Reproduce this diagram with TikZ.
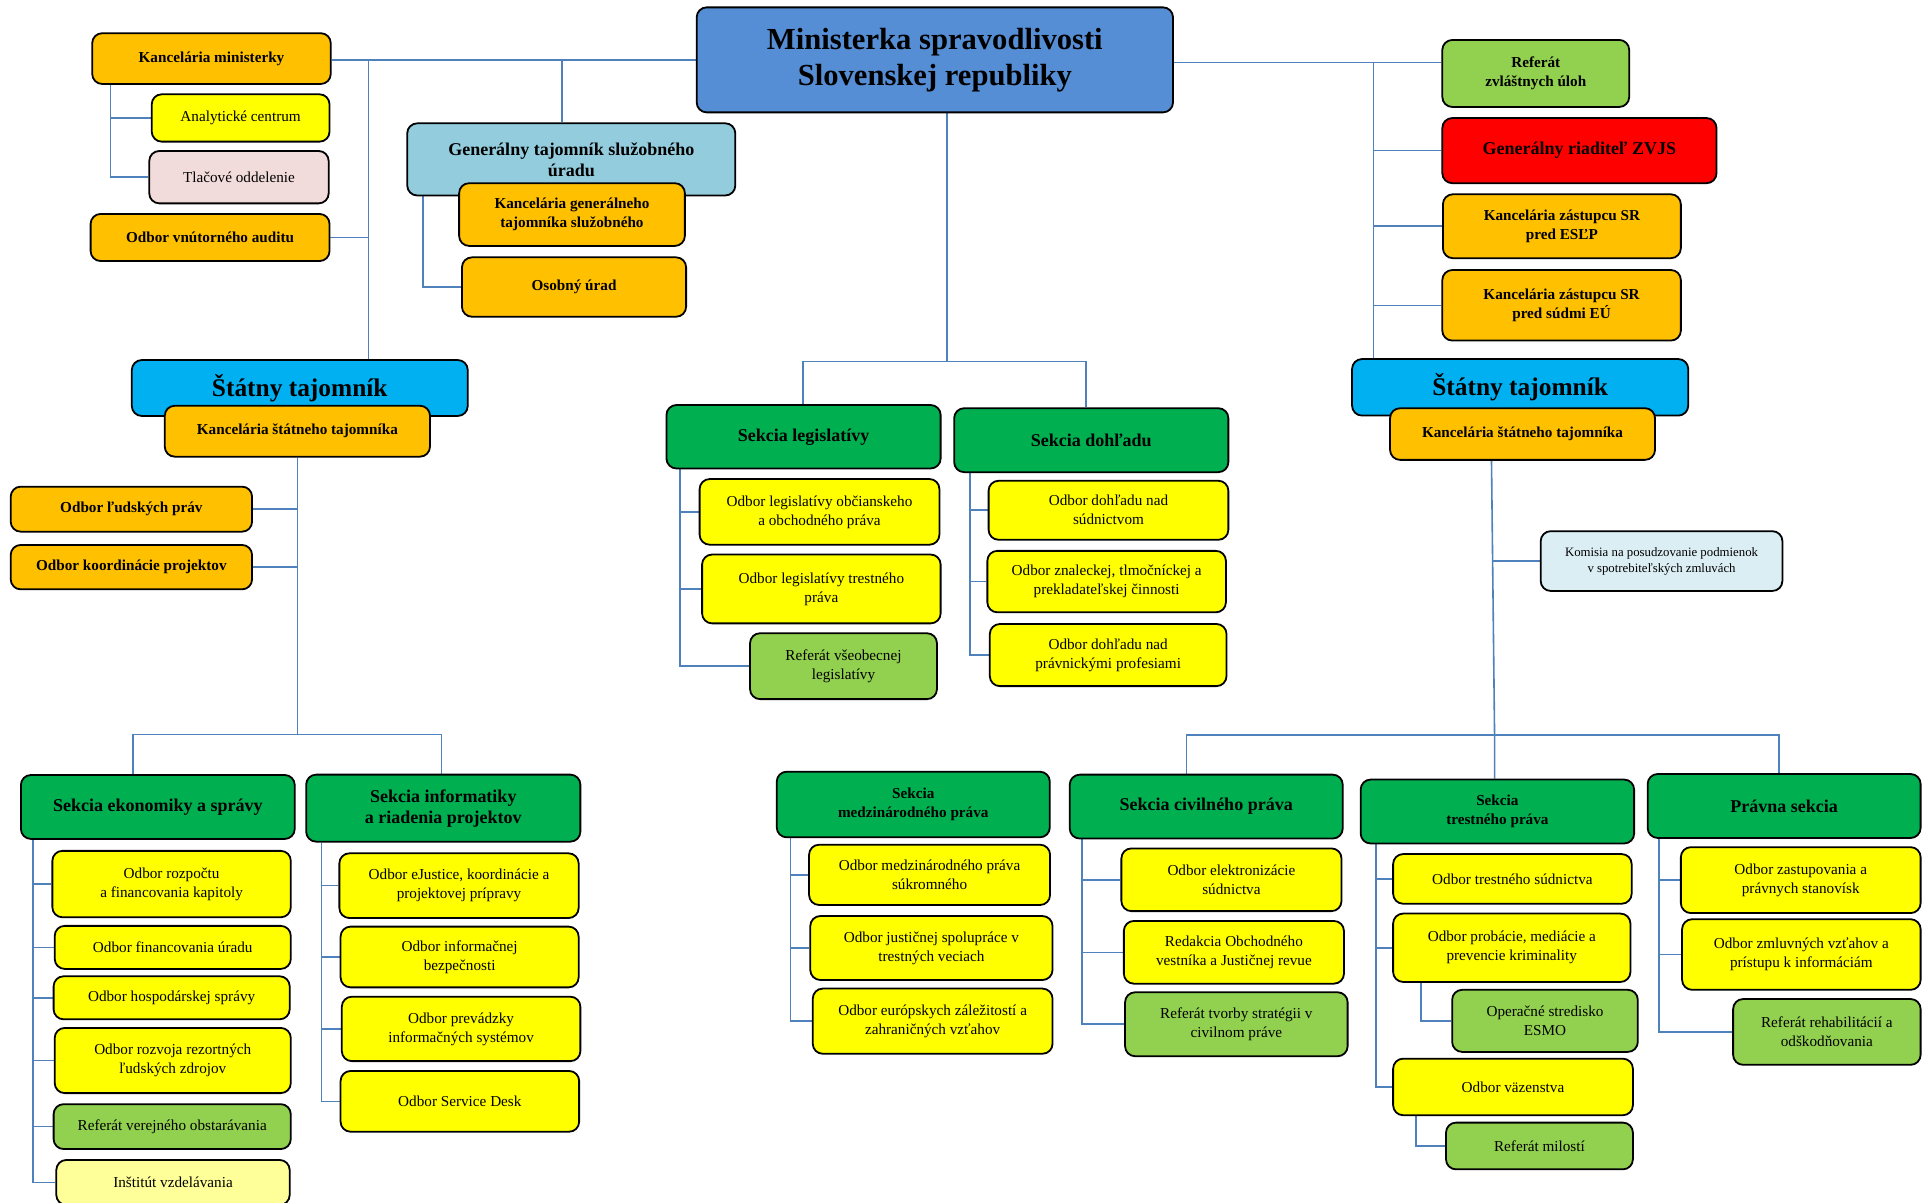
\documentclass[tikz,border=0pt]{standalone}
\usepackage{fontspec}
\setmainfont{Liberation Serif}
\usetikzlibrary{backgrounds}
\definecolor{cMin}{HTML}{558ED5}
\definecolor{cGT}{HTML}{93CDDD}
\definecolor{cST}{HTML}{00B0F0}
\definecolor{cOrg}{HTML}{FFC000}
\definecolor{cYel}{HTML}{FFFF00}
\definecolor{cSec}{HTML}{00B050}
\definecolor{cLg}{HTML}{92D050}
\definecolor{cPink}{HTML}{F2DCDB}
\definecolor{cRed}{HTML}{FF0000}
\definecolor{cKom}{HTML}{DBEEF4}
\definecolor{cPale}{HTML}{FFFF99}
\definecolor{cLine}{HTML}{4F81BD}
\tikzset{
  bx/.style={draw=black, line width=0.9pt, rounded corners=5pt, inner sep=0pt, align=center},
  bh/.style={bx, font=\bfseries\fontsize{15.3}{18}\selectfont},
  bst/.style={bx, font=\bfseries\fontsize{12.7}{15}\selectfont},
  bb/.style={bx, font=\bfseries\fontsize{9}{10.5}\selectfont},
  bs/.style={bx, font=\bfseries\fontsize{7.6}{9.3}\selectfont},
  nt/.style={bx, font=\fontsize{7.6}{9.5}\selectfont},
  nk/.style={bx, font=\fontsize{6.4}{8}\selectfont},
  fo/.style={fill=cOrg}, fy/.style={fill=cYel}, fg/.style={fill=cSec},
  fl/.style={fill=cLg},
  conn/.style={draw=cLine, line width=0.8pt}
}
% box from corner (#2,#3) to (#4,#5), named #6, text #7
\newcommand\bxn[7]{\node[#1, minimum width={(#4-#2)*0.6148pt}, minimum height={(#5-#3)*0.6148pt}] (#6) at ({(#2+#4)/2},{(#3+#5)/2}) {#7};}
\begin{document}
\begin{tikzpicture}[x=0.6148pt, y=-0.6148pt]
\useasboundingbox (0,0) rectangle (1568,978);
% top
\bxn{bh,fill=cMin}{566.6}{6}{954}{91.4}{min}{Ministerka spravodlivosti\\Slovenskej republiky}
\bxn{bs,fo}{75}{27}{269}{68.3}{kmin}{Kancelária ministerky}
\bxn{nt,fy}{123.4}{76.7}{268}{115.2}{anal}{Analytické centrum}
\bxn{nt,fill=cPink}{121.4}{122.8}{267.3}{165.4}{tlac}{Tlačové oddelenie}
\bxn{bs,fo}{73.7}{174}{268}{212.3}{audit}{Odbor vnútorného auditu}
\bxn{bb,fill=cGT}{331.2}{100.3}{598}{159}{gt}{Generálny tajomník služobného\\úradu}
\bxn{bs,fo}{373.4}{149}{557}{200}{kgt}{Kancelária generálneho\\tajomníka služobného}
\bxn{bs,fo}{375.7}{209.3}{558}{257.6}{osob}{Osobný úrad}
% left state secretary
\bxn{bst,fill=cST}{107.2}{292.8}{380.4}{338.3}{stl}{Štátny tajomník}
\bxn{bs,fo}{134}{330}{349.7}{371.4}{kstl}{Kancelária štátneho tajomníka}
\bxn{bs,fo}{8.7}{395.8}{205}{432.4}{ludsk}{Odbor ľudských práv}
\bxn{bs,fo}{8.7}{443.2}{205}{479.3}{koord}{Odbor koordinácie projektov}
% middle sections
\bxn{bb,fg}{542}{329.4}{765}{381}{sleg}{Sekcia legislatívy}
\bxn{bb,fg}{776}{332}{999}{384}{sdoh}{Sekcia dohľadu}
\bxn{nt,fy}{569}{389.6}{764}{443}{obc}{Odbor legislatívy občianskeho\\a obchodného práva}
\bxn{nt,fy}{571}{451}{765}{507}{trp}{Odbor legislatívy trestného\\práva}
\bxn{nt,fl}{610}{515}{762}{568.6}{rvl}{Referát všeobecnej\\legislatívy}
\bxn{nt,fy}{804}{391}{999}{439}{sud}{Odbor dohľadu nad\\súdnictvom}
\bxn{nt,fy}{803}{448}{997}{498}{zna}{Odbor znaleckej, tlmočníckej a\\prekladateľskej činnosti}
\bxn{nt,fy}{805}{507.5}{997.5}{558}{prof}{Odbor dohľadu nad\\právnickými profesiami}
% right top
\bxn{bs,fl}{1173}{32.5}{1325}{87}{refzu}{Referát\\zvláštnych úloh}
\bxn{bb,fill=cRed}{1173}{96}{1396}{149}{gr}{Generálny riaditeľ ZVJS}
\bxn{bs,fo}{1173.5}{158}{1367}{210}{esl}{Kancelária zástupcu SR\\pred ESĽP}
\bxn{bs,fo}{1173}{219.6}{1367}{277}{eu}{Kancelária zástupcu SR\\pred súdmi EÚ}
\bxn{bst,fill=cST}{1099.6}{292}{1373}{338}{str}{Štátny tajomník}
\bxn{bs,fo}{1130.5}{332}{1346}{374}{kstr}{Kancelária štátneho tajomníka}
\bxn{nk,fill=cKom}{1253}{432}{1449.6}{480.6}{kom}{Komisia na posudzovanie podmienok\\v spotrebiteľských zmluvách}
% bottom left sections
\bxn{bb,fg}{17}{630.3}{239.7}{682.3}{sek}{Sekcia ekonomiky a správy}
\bxn{bb,fg}{249}{630}{472}{684.5}{sinf}{Sekcia informatiky\\a riadenia projektov}
\bxn{nt,fy}{42.6}{692}{236.5}{746}{rozp}{Odbor rozpočtu\\a financovania kapitoly}
\bxn{nt,fy}{44.5}{753}{236.5}{788}{fin}{Odbor financovania úradu}
\bxn{nt,fy}{43.6}{794}{235.6}{829}{hosp}{Odbor hospodárskej správy}
\bxn{nt,fy}{44.5}{836}{236.5}{889}{rozv}{Odbor rozvoja rezortných\\ľudských zdrojov}
\bxn{nt,fl}{43.6}{898}{236.5}{934.5}{rvo}{Referát verejného obstarávania}
\bxn{nt,fill=cPale}{45.8}{943.4}{235.6}{980}{inst}{Inštitút vzdelávania}
\bxn{nt,fy}{276}{694}{470.6}{746.6}{ej}{Odbor eJustice, koordinácie a\\projektovej prípravy}
\bxn{nt,fy}{277}{753.6}{470.6}{803}{inf}{Odbor informačnej\\bezpečnosti}
\bxn{nt,fy}{278}{810.6}{472}{863}{prev}{Odbor prevádzky\\informačných systémov}
\bxn{nt,fy}{277}{871}{471}{920.4}{sd}{Odbor Service Desk}
% bottom middle/right sections
\bxn{bs,fg}{631.7}{627.6}{853.8}{681}{medz}{Sekcia\\medzinárodného práva}
\bxn{nt,fy}{658}{687}{854}{736}{omps}{Odbor medzinárodného práva\\súkromného}
\bxn{nt,fy}{659}{745}{856}{797}{ojs}{Odbor justičnej spolupráce v\\trestných veciach}
\bxn{nt,fy}{661}{804}{856}{857}{oez}{Odbor európskych záležitostí a\\zahraničných vzťahov}
\bxn{bb,fg}{870}{630}{1092}{682}{civ}{Sekcia civilného práva}
\bxn{nt,fy}{912}{690}{1091}{741}{elek}{Odbor elektronizácie\\súdnictva}
\bxn{nt,fy}{914}{749}{1093}{800}{redk}{Redakcia Obchodného\\vestníka a Justičnej revue}
\bxn{nt,fl}{915}{807}{1096}{859}{rts}{Referát tvorby stratégii v\\civilnom práve}
\bxn{bs,fg}{1106.6}{634}{1329}{686}{trest}{Sekcia\\trestného práva}
\bxn{nt,fy}{1133}{694.6}{1327}{735}{ots}{Odbor trestného súdnictva}
\bxn{nt,fy}{1133}{743}{1326}{798.6}{prob}{Odbor probácie, mediácie a\\prevencie kriminality}
\bxn{nt,fl}{1181}{805}{1332}{855.5}{esmo}{Operačné stredisko\\ESMO}
\bxn{nt,fy}{1133}{861}{1328}{907}{vaz}{Odbor väzenstva}
\bxn{nt,fl}{1176}{913}{1328}{951}{mil}{Referát milostí}
\bxn{bb,fg}{1340}{629.5}{1562}{681.5}{pravna}{Právna sekcia}
\bxn{nt,fy}{1367}{689}{1562}{742.6}{zast}{Odbor zastupovania a\\právnych stanovísk}
\bxn{nt,fy}{1368}{747.6}{1562}{805}{zml}{Odbor zmluvných vzťahov a\\prístupu k informáciám}
\bxn{nt,fl}{1409.5}{812.5}{1562}{866}{reh}{Referát rehabilitácií a\\odškodňovania}
% connector helper coordinates
\coordinate (ja) at (299.6,48);
\coordinate (jg) at (457,48);
\coordinate (jk) at (90,0);
\coordinate (jgt) at (343.8,0);
\coordinate (jr) at (1117,0);
\coordinate (jrl) at (955,51);
\coordinate (jm) at (770,0);
\coordinate (ml) at (653,294);
\coordinate (mr) at (883,294);
\coordinate (jl) at (553,0);
\coordinate (jd) at (789,0);
\coordinate (lbl) at (108.4,597.5);
\coordinate (lbr) at (359,597.5);
\coordinate (je) at (27,0);
\coordinate (ji) at (261.5,0);
\coordinate (rtx) at (1213,0);
\coordinate (rbar) at (1215.5,598);
\coordinate (rbl) at (965,598);
\coordinate (rbr) at (1447,598);
\coordinate (jt) at (1119,0);
\coordinate (jes) at (1155.5,0);
\coordinate (jmi) at (1151.6,0);
\coordinate (jp) at (1349,0);
\coordinate (jc) at (880,0);
\coordinate (jz) at (643,0);
\begin{scope}[on background layer]
\fill[white] (0,0) rectangle (1568,978);
\begin{scope}[conn]
% top left
\draw (min.west) -- (min.west -| kmin.east);
\draw (ja) -- (ja |- stl.north);
\draw (audit.east) -- (audit.east -| ja);
\draw (jg) -- (jg |- gt.north);
\draw (jk |- kmin.south) |- (tlac.west);
\draw (jk |- anal.west) -- (anal.west);
\draw (jgt |- gt.south) |- (osob.west);
% top right
\draw (jrl) -- (jrl -| refzu.west);
\draw (jr |- jrl) -- (jr |- str.north);
\draw (gr.west) -- (gr.west -| jr);
\draw (esl.west) -- (esl.west -| jr);
\draw (eu.west) -- (eu.west -| jr);
% middle
\draw (jm |- min.south) -- (jm |- ml);
\draw (ml |- sleg.north) -- (ml) -- (mr) -- (mr |- sdoh.north);
\draw (jl |- sleg.south) |- (rvl.west);
\draw (jl |- obc.west) -- (obc.west);
\draw (jl |- trp.west) -- (trp.west);
\draw (jd |- sdoh.south) |- (prof.west);
\draw (jd |- sud.west) -- (sud.west);
\draw (jd |- zna.west) -- (zna.west);
% left state secretary
\draw (kstl.south) -- (kstl.south |- lbl);
\draw (lbl |- sek.north) -- (lbl) -- (lbr) -- (lbr |- sinf.north);
\draw (ludsk.east) -- (ludsk.east -| kstl.south);
\draw (koord.east) -- (koord.east -| kstl.south);
\draw (je |- sek.south) |- (inst.west);
\draw (je |- rozp.west) -- (rozp.west);
\draw (je |- fin.west) -- (fin.west);
\draw (je |- hosp.west) -- (hosp.west);
\draw (je |- rozv.west) -- (rozv.west);
\draw (je |- rvo.west) -- (rvo.west);
\draw (ji |- sinf.south) |- (sd.west);
\draw (ji |- ej.west) -- (ej.west);
\draw (ji |- inf.west) -- (inf.west);
\draw (ji |- prev.west) -- (prev.west);
% right state secretary
\draw (rtx |- kstr.south) -- (rbar) -- (rbar |- trest.north);
\draw (rbl |- civ.north) -- (rbl) -- (rbr) -- (rbr |- pravna.north);
\draw (kom.west) -- (kom.west -| rtx);
\draw (jz |- medz.south) |- (oez.west);
\draw (jz |- omps.west) -- (omps.west);
\draw (jz |- ojs.west) -- (ojs.west);
\draw (jc |- civ.south) |- (rts.west);
\draw (jc |- elek.west) -- (elek.west);
\draw (jc |- redk.west) -- (redk.west);
\draw (jt |- trest.south) |- (vaz.west);
\draw (jt |- ots.west) -- (ots.west);
\draw (jt |- prob.west) -- (prob.west);
\draw (jes |- prob.south) |- (esmo.west);
\draw (jmi |- vaz.south) |- (mil.west);
\draw (jp |- pravna.south) |- (reh.west);
\draw (jp |- zast.west) -- (zast.west);
\draw (jp |- zml.west) -- (zml.west);
\end{scope}
\end{scope}
\end{tikzpicture}
\end{document}
